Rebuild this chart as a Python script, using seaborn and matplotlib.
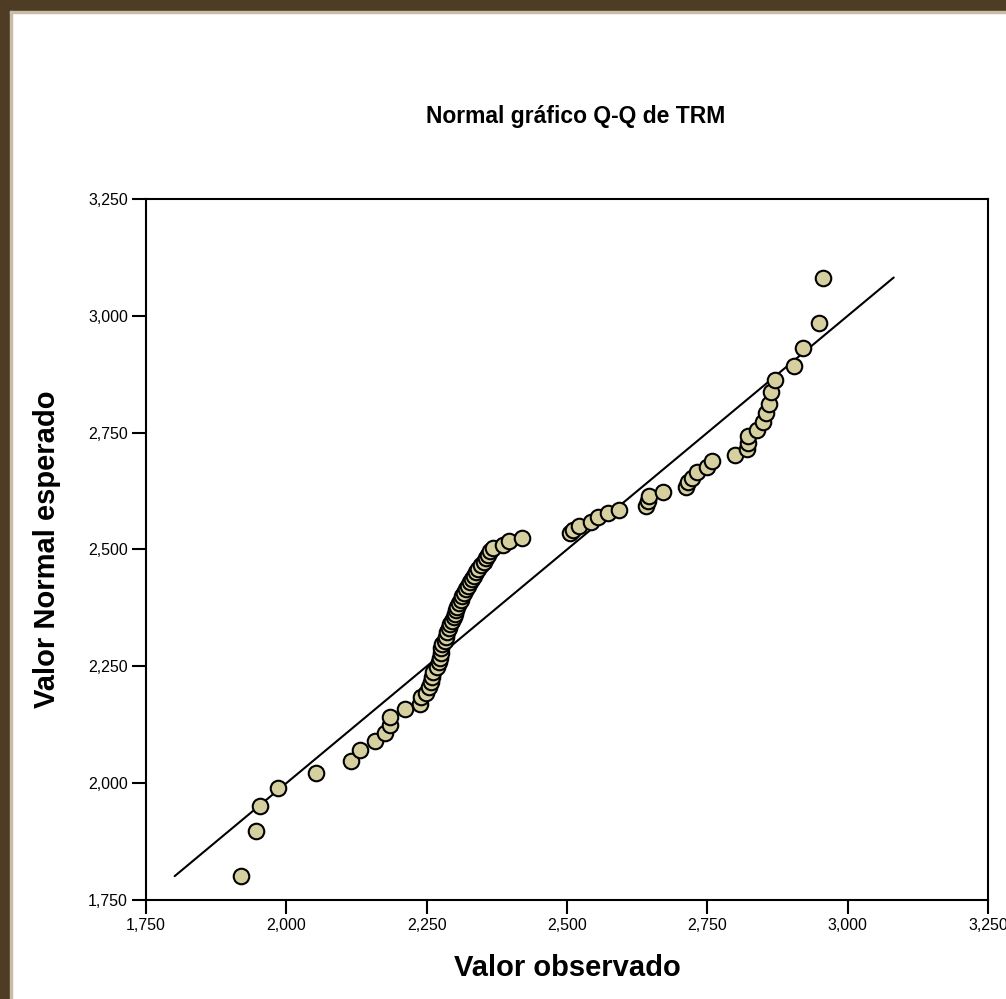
import matplotlib
matplotlib.use("Agg")
import matplotlib.pyplot as plt
from matplotlib.patches import Rectangle
from matplotlib.ticker import FuncFormatter, FixedLocator
import seaborn as sns
import pandas as pd

observed = [
    1919, 1946, 1953, 1985, 2052, 2116, 2132, 2158, 2175, 2185, 2185, 2211, 2238, 2240,
    2248, 2254, 2258, 2260, 2262, 2268, 2272, 2274, 2275, 2276, 2278, 2282, 2285, 2287,
    2290, 2292, 2295, 2298, 2300, 2302, 2304, 2308, 2311, 2313, 2316, 2320, 2323, 2327,
    2330, 2335, 2338, 2342, 2346, 2352, 2356, 2359, 2363, 2368, 2386, 2396, 2420,
    2505, 2511, 2521, 2543, 2555, 2573, 2593, 2641, 2644, 2646, 2671,
    2712, 2716, 2722, 2731, 2749, 2759, 2799, 2821, 2823, 2823, 2838, 2849, 2855, 2860,
    2863, 2871, 2904, 2921, 2949, 2956,
]
expected = [
    1801, 1898, 1951, 1990, 2022, 2047, 2070, 2090, 2108, 2124, 2142, 2158, 2169, 2184,
    2193, 2206, 2216, 2228, 2238, 2249, 2259, 2268, 2278, 2289, 2297, 2304, 2312, 2323,
    2332, 2340, 2347, 2355, 2362, 2370, 2377, 2385, 2392, 2400, 2407, 2415, 2422, 2430,
    2437, 2444, 2451, 2459, 2466, 2474, 2481, 2488, 2496, 2503, 2510, 2518, 2525,
    2535, 2542, 2550, 2559, 2570, 2578, 2585, 2593, 2604, 2614, 2623,
    2633, 2644, 2654, 2666, 2676, 2689, 2702, 2714, 2728, 2743, 2756, 2773, 2792, 2811,
    2836, 2863, 2893, 2932, 2985, 3082,
]
ticks = [1750, 2000, 2250, 2500, 2750, 3000, 3250]

title = "Normal gráfico Q-Q de TRM"
xlabel = "Valor observado"
ylabel = "Valor Normal esperado"

df = pd.DataFrame({"obs": observed, "exp": expected})

sns.set_style("white")
plt.rcParams["font.family"] = ["Liberation Sans", "DejaVu Sans"]
plt.rcParams["text.color"] = "black"
plt.rcParams["axes.labelcolor"] = "black"

W, H = 1006, 999
fig = plt.figure(figsize=(W / 100, H / 100), dpi=100)
fig.patch.set_facecolor("white")

# brown frame (left and top)
brown = "#4f3c25"
fig.patches.append(Rectangle((0, 0), 10 / W, 1, transform=fig.transFigure, color=brown, zorder=0))
fig.patches.append(Rectangle((0, 1 - 11 / H), 1, 11 / H, transform=fig.transFigure, color=brown, zorder=0))
fig.patches.append(Rectangle((10 / W, 1 - 13 / H), 1, 2 / H, transform=fig.transFigure, color="#c9bca8", zorder=0))
fig.patches.append(Rectangle((10 / W, 0), 1.5 / W, 1 - 11 / H, transform=fig.transFigure, color="#c9bca8", zorder=0))

x0, x1, y_top, y_bot = 146, 988, 199, 900
ax = fig.add_axes([x0 / W, 1 - y_bot / H, (x1 - x0) / W, (y_bot - y_top) / H])

lo, hi = min(expected), max(expected)
ax.plot([lo, hi], [lo, hi], color="black", lw=1.5, zorder=2)

sns.scatterplot(data=df, x="obs", y="exp", ax=ax, s=125, color="#d6d0a0",
                edgecolor="black", linewidth=1.5, zorder=3, legend=False)

ax.set_xlim(1750, 3250)
ax.set_ylim(1750, 3250)
ax.xaxis.set_major_locator(FixedLocator(ticks))
ax.yaxis.set_major_locator(FixedLocator(ticks))
fmt = FuncFormatter(lambda v, p: f"{v:,.0f}")
ax.xaxis.set_major_formatter(fmt)
ax.yaxis.set_major_formatter(fmt)

for s in ax.spines.values():
    s.set_visible(True)
    s.set_color("black")
    s.set_linewidth(1.5)

ax.tick_params(axis="both", which="major", direction="out", length=10, width=1.5,
               color="black", labelsize=11.5, labelcolor="black", pad=3,
               bottom=True, left=True, top=False, right=False)

ax.set_xlabel(xlabel, fontsize=21, fontweight="bold")
ax.set_ylabel(ylabel, fontsize=21, fontweight="bold")
ax.xaxis.set_label_coords(0.5, (y_bot - 968) / (y_bot - y_top))
ax.xaxis.label.set_verticalalignment("center")
ax.yaxis.set_label_coords((47 - x0) / (x1 - x0), 0.5)
ax.yaxis.label.set_horizontalalignment("center")
ax.yaxis.label.set_verticalalignment("center")

fig.text(576 / W, 1 - 117 / H, title, fontsize=16.5, fontweight="bold",
         ha="center", va="center")

fig.savefig("out.png", dpi=100)
